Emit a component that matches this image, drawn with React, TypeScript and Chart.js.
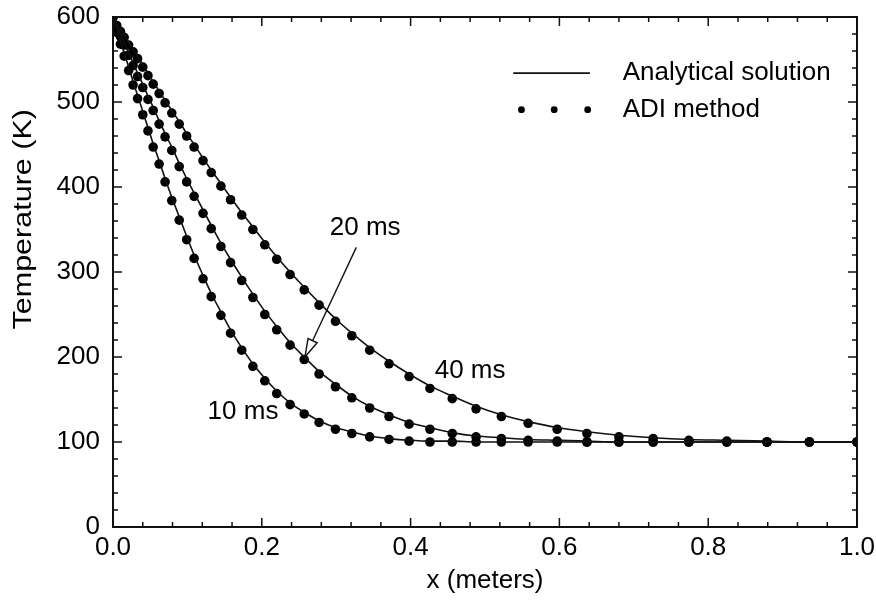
import React, { useEffect, useRef } from "react";
import { Chart, registerables } from "chart.js";

Chart.register(...registerables);

// Shared (stretched) grid of x positions, metres
const xGrid = [0, 0.005, 0.010, 0.015, 0.021, 0.027, 0.033, 0.040, 0.047, 0.054, 0.062, 0.070, 0.079, 0.089, 0.099, 0.109, 0.121, 0.132, 0.145, 0.158, 0.173, 0.188, 0.204, 0.220, 0.238, 0.257, 0.277, 0.299, 0.321, 0.345, 0.371, 0.398, 0.426, 0.456, 0.488, 0.522, 0.558, 0.597, 0.637, 0.680, 0.726, 0.774, 0.825, 0.879, 0.936, 1.000];

// Analytical solution, temperature (K)
const analytical10 = [600, 586, 572, 558, 541, 524, 508, 489, 470, 451, 431, 410, 388, 365, 342, 320, 296, 275, 253, 232, 211, 192, 175, 160, 146, 135, 125, 117, 112, 107, 104, 102, 101, 101, 100, 100, 100, 100, 100, 100, 100, 100, 100, 100, 100, 100];
const analytical20 = [600, 590, 580, 570, 558, 546, 534, 521, 507, 494, 478, 463, 447, 428, 410, 393, 373, 355, 334, 315, 294, 274, 254, 236, 217, 200, 183, 168, 154, 142, 132, 123, 117, 111, 107, 105, 103, 102, 101, 100, 100, 100, 100, 100, 100, 100];
const analytical40 = [600, 593, 586, 579, 570, 562, 554, 544, 534, 524, 513, 502, 490, 477, 463, 450, 434, 420, 404, 388, 370, 353, 335, 318, 300, 282, 264, 245, 228, 211, 195, 180, 166, 154, 142, 132, 124, 117, 112, 108, 105, 103, 102, 101, 100, 100];

// ADI method, temperature (K)
const adi10 = [600, 582, 568, 554, 537, 520, 504, 485, 466, 447, 427, 406, 384, 361, 338, 316, 292, 271, 249, 228, 208, 189, 172, 157, 144, 133, 123, 115, 110, 106, 103, 101, 100, 100, 100, 100, 100, 100, 100, 100, 100, 100, 100, 100, 100, 100];
const adi20 = [600, 587, 577, 567, 555, 543, 530, 517, 503, 490, 474, 459, 443, 424, 406, 389, 369, 351, 330, 311, 290, 270, 250, 232, 214, 197, 180, 165, 152, 140, 130, 121, 115, 110, 106, 104, 102, 101, 100, 100, 100, 100, 100, 100, 100, 100];
const adi40 = [600, 590, 583, 576, 567, 559, 551, 541, 531, 521, 510, 499, 487, 474, 460, 447, 431, 417, 401, 385, 367, 350, 332, 315, 297, 279, 261, 242, 225, 208, 192, 177, 163, 151, 139, 130, 122, 115, 110, 106, 104, 102, 101, 100, 100, 100];

const xTicks = [0, 0.2, 0.4, 0.6, 0.8, 1.0];
const yTicks = [0, 100, 200, 300, 400, 500, 600];

const curveLabels = ["10 ms", "20 ms", "40 ms"];
const legendLabels = ["Analytical solution", "ADI method"];
const xTitle = "x (meters)";
const yTitle = "Temperature (K)";

const FONT = '"Liberation Sans", Arial, Helvetica, sans-serif';
const INK = "#111";

function pts(ys: number[]) {
  return xGrid.map((x, i) => ({ x, y: ys[i] }));
}

const decorPlugin = {
  id: "decor",
  afterDraw(chart: any) {
    const { ctx, chartArea: a, scales } = chart;
    const xs = scales.x;
    const ys = scales.y;
    const px = (v: number) => xs.getPixelForValue(v);
    const py = (v: number) => ys.getPixelForValue(v);
    ctx.save();
    ctx.strokeStyle = INK;
    ctx.fillStyle = "#000";

    // frame
    ctx.lineWidth = 2;
    ctx.strokeRect(a.left, a.top, a.right - a.left, a.bottom - a.top);

    // inward ticks
    ctx.lineWidth = 1.5;
    ctx.beginPath();
    for (let k = 0; k <= 25; k++) {
      const v = k * 0.04;
      const major = k % 5 === 0;
      const len = major ? 9 : 5;
      const x = px(v);
      ctx.moveTo(x, a.bottom);
      ctx.lineTo(x, a.bottom - len);
      ctx.moveTo(x, a.top);
      ctx.lineTo(x, a.top + len);
    }
    for (let k = 0; k <= 30; k++) {
      const v = k * 20;
      const major = k % 5 === 0;
      const len = major ? 9 : 5;
      const y = py(v);
      ctx.moveTo(a.left, y);
      ctx.lineTo(a.left + len, y);
      ctx.moveTo(a.right, y);
      ctx.lineTo(a.right - len, y);
    }
    ctx.stroke();

    // y-axis title (slightly stretched along its length, as in the scan)
    ctx.save();
    ctx.translate(a.left - 89, py(362));
    ctx.rotate(-Math.PI / 2);
    ctx.scale(1.22, 1);
    ctx.font = `25px ${FONT}`;
    ctx.textAlign = "center";
    ctx.textBaseline = "middle";
    ctx.fillText(yTitle, 0, 0);
    ctx.restore();

    // curve labels
    ctx.font = `26px ${FONT}`;
    ctx.textAlign = "center";
    ctx.textBaseline = "middle";
    const labelAt: [number, number][] = [
      [0.1747, 136],
      [0.339, 352],
      [0.48, 184],
    ];
    curveLabels.forEach((t, i) => {
      ctx.fillText(t, px(labelAt[i][0]), py(labelAt[i][1]));
    });

    // arrow for 20 ms
    const x0 = px(0.327), y0 = py(329);
    const x1 = px(0.258), y1 = py(200);
    const ang = Math.atan2(y1 - y0, x1 - x0);
    const hl = 18, hw = 5;
    const bx = x1 - hl * Math.cos(ang), by = y1 - hl * Math.sin(ang);
    ctx.lineWidth = 1.4;
    ctx.beginPath();
    ctx.moveTo(x0, y0);
    ctx.lineTo(bx, by);
    ctx.stroke();
    ctx.beginPath();
    ctx.moveTo(x1, y1);
    ctx.lineTo(bx + hw * Math.sin(ang), by - hw * Math.cos(ang));
    ctx.lineTo(bx - hw * Math.sin(ang), by + hw * Math.cos(ang));
    ctx.closePath();
    ctx.fillStyle = "#fff";
    ctx.fill();
    ctx.stroke();
    ctx.fillStyle = "#000";

    // legend
    ctx.lineWidth = 1.6;
    ctx.beginPath();
    ctx.moveTo(px(0.538), py(534));
    ctx.lineTo(px(0.641), py(534));
    ctx.stroke();
    [0.549, 0.593, 0.638].forEach((v) => {
      ctx.beginPath();
      ctx.arc(px(v), py(491), 3.4, 0, Math.PI * 2);
      ctx.fill();
    });
    ctx.textAlign = "left";
    ctx.fillText(legendLabels[0], px(0.685), py(534));
    ctx.fillText(legendLabels[1], px(0.685), py(491));
    ctx.restore();
  },
};

export default function App() {
  const ref = useRef<HTMLCanvasElement | null>(null);
  useEffect(() => {
    if (!ref.current) return;
    const lineDs = (ys: number[]) => ({
      type: "line" as const,
      data: pts(ys),
      borderColor: INK,
      borderWidth: 1.6,
      pointRadius: 0,
      cubicInterpolationMode: "monotone" as const,
      fill: false,
    });
    const dotDs = (ys: number[]) => ({
      type: "scatter" as const,
      data: pts(ys),
      backgroundColor: "#000",
      borderWidth: 0,
      pointRadius: 4.8,
      showLine: false,
    });
    const chart = new Chart(ref.current, {
      type: "scatter",
      data: {
        datasets: [
          lineDs(analytical10),
          lineDs(analytical20),
          lineDs(analytical40),
          dotDs(adi10),
          dotDs(adi20),
          dotDs(adi40),
        ] as any,
      },
      options: {
        responsive: false,
        animation: false,
        devicePixelRatio: 1,
        layout: { padding: { top: 17, right: 19, bottom: 0, left: 0 } },
        plugins: { legend: { display: false }, tooltip: { enabled: false } },
        scales: {
          x: {
            type: "linear",
            min: 0,
            max: 1,
            afterBuildTicks: (s: any) => {
              s.ticks = xTicks.map((v) => ({ value: v }));
            },
            afterFit: (s: any) => {
              s.height = 74;
              s.paddingLeft = 0;
              s.paddingRight = 0;
            },
            grid: { display: false, drawTicks: false },
            border: { display: false },
            ticks: {
              color: "#000",
              font: { family: FONT, size: 26 },
              padding: 5,
              maxRotation: 0,
              callback: (v: any) => Number(v).toFixed(1),
            },
            title: {
              display: true,
              text: xTitle,
              color: "#000",
              font: { family: FONT, size: 26 },
              padding: { top: 0, bottom: 5 },
            },
          },
          y: {
            type: "linear",
            min: 0,
            max: 600,
            afterBuildTicks: (s: any) => {
              s.ticks = yTicks.map((v) => ({ value: v }));
            },
            afterFit: (s: any) => {
              s.width = 113;
              s.paddingTop = 0;
              s.paddingBottom = 0;
            },
            grid: { display: false, drawTicks: false },
            border: { display: false },
            ticks: {
              color: "#000",
              font: { family: FONT, size: 26 },
              padding: 13,
              callback: (v: any) => String(v),
            },
            title: { display: false },
          },
        },
      },
      plugins: [decorPlugin],
    });
    return () => chart.destroy();
  }, []);
  return (
    <div style={{ position: "absolute", left: 0, top: 0, width: 876, height: 601, background: "#fff" }}>
      <canvas ref={ref} width={876} height={601} />
    </div>
  );
}
